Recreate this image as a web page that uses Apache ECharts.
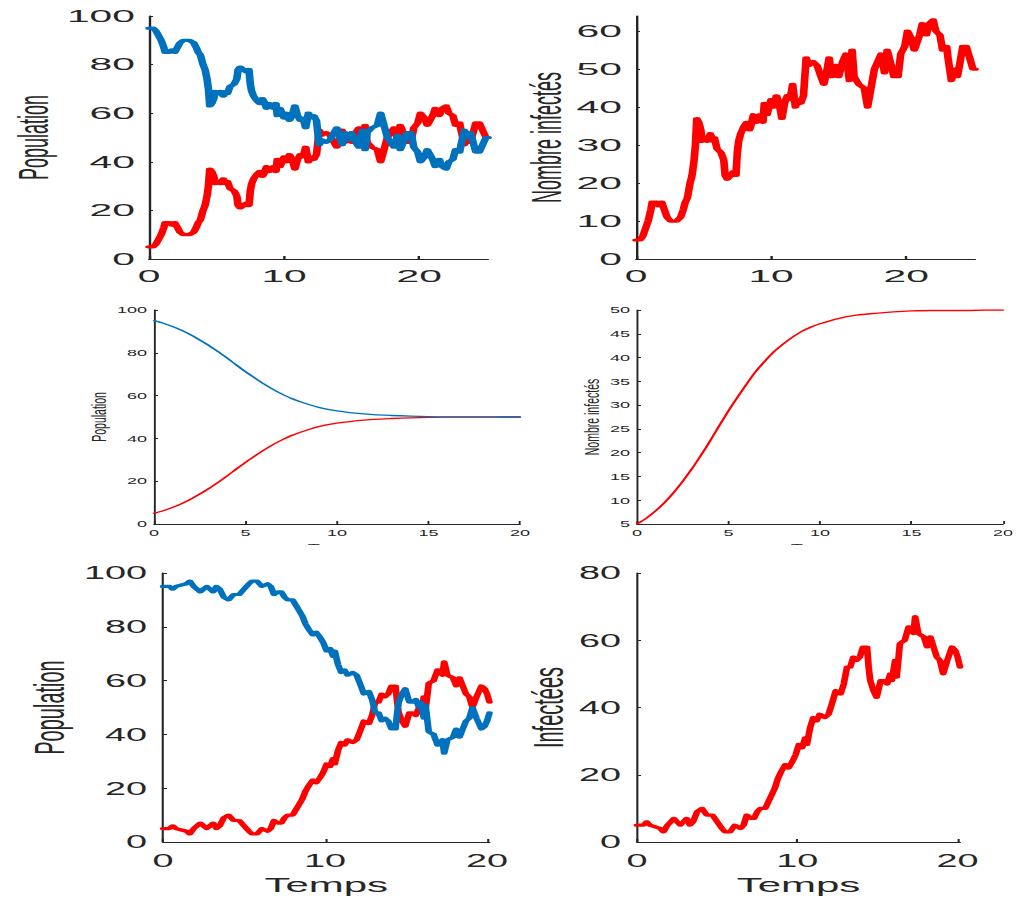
<!DOCTYPE html>
<html>
<head>
<meta charset="utf-8">
<script src="https://cdn.jsdelivr.net/npm/echarts@6/dist/echarts.min.js"></script>
<style>
  html, body { margin: 0; padding: 0; background: #fff; width: 1016px; height: 899px; overflow: hidden; }
  .row { position: absolute; left: 0; width: 1016px; overflow: hidden; background: #fff; }
  .inner { position: absolute; left: 0; top: 0; transform-origin: 0 0; }
</style>
</head>
<body>
<div class="row" style="top:0;height:290px"><div class="inner" id="chart-top"></div></div>
<div class="row" style="top:290px;height:255px"><div class="inner" id="chart-mid"></div></div>
<div class="row" style="top:545px;height:354px"><div class="inner" id="chart-bot"></div></div>
<script>
// ---- Simulation 1 (horizon 25): event times, infected and susceptible counts ----
const topTimes = [0, 0.3, 0.5, 0.7, 0.9, 1.1, 1.2, 1.5, 1.7, 1.9, 2.1, 2.3, 2.55, 3.0, 3.3, 3.5, 3.65, 3.8,
  4.0, 4.15, 4.3, 4.4, 4.5, 4.65, 4.8, 4.9, 5.1, 5.3, 5.5, 5.7, 5.8, 6.0, 6.3, 6.5, 6.6, 6.75, 7.0, 7.2,
  7.4, 7.5, 7.6, 7.75, 8.0, 8.2, 8.4, 8.5, 8.7, 8.9, 9.2, 9.4, 9.5, 9.7, 9.85, 10.0, 10.2, 10.4, 10.6,
  10.7, 10.8, 11.0, 11.2, 11.4, 11.6, 11.8, 12.0, 12.2, 12.4, 12.6, 12.8, 13.1, 13.4, 13.7, 13.9, 14.1,
  14.3, 14.5, 14.8, 15.0, 15.3, 15.55, 15.8, 16.0, 16.15, 16.5, 16.9, 17.15, 17.4, 17.65, 17.9, 18.15,
  18.4, 18.6, 18.9, 19.1, 19.4, 19.6, 19.9, 20.1, 20.4, 20.6, 21.0, 21.2, 21.5, 21.7, 22.0, 22.2, 22.5,
  22.7, 23.0, 23.1, 23.35, 23.6, 23.8, 24.2, 24.45, 24.7, 24.95, 25.1];
const topInfected = [5, 5, 6, 8, 10, 13, 15, 15, 14, 15, 13, 11, 10, 10, 11, 13, 15, 16,
  20, 22, 26, 30, 37, 36, 34, 31, 32, 31, 33, 31, 32, 29, 28, 26, 22, 21, 22, 23,
  22, 28, 31, 33, 35, 36, 34, 35, 38, 36, 38, 36, 41, 38, 40, 42, 40, 43, 41,
  39, 37, 41, 43, 42, 46, 40, 42, 41, 43, 53, 51, 52, 51, 48, 46, 49,
  53, 48, 51, 48, 52, 54, 47, 55, 48, 46, 45, 40, 45, 50, 52, 54,
  49, 55, 51, 48, 48, 54, 56, 60, 58, 55, 59, 62, 59, 62, 63, 60, 59,
  55, 56, 53, 47, 50, 48, 56, 56, 53, 50, 50];
const topSusceptible = [95, 95, 94, 92, 90, 87, 85, 85, 86, 85, 87, 89, 90, 90, 89, 87, 85, 84,
  80, 78, 74, 70, 63, 64, 66, 69, 68, 69, 67, 69, 68, 71, 72, 74, 78, 79, 78, 77,
  78, 72, 69, 67, 65, 64, 66, 65, 62, 64, 62, 64, 59, 62, 60, 58, 60, 57, 59,
  61, 63, 59, 57, 58, 54, 60, 58, 59, 57, 47, 49, 48, 49, 52, 54, 51,
  47, 52, 49, 52, 48, 46, 53, 45, 52, 54, 55, 60, 55, 50, 48, 46,
  51, 45, 49, 52, 52, 46, 44, 40, 42, 45, 41, 38, 41, 38, 37, 40, 41,
  45, 44, 47, 53, 50, 52, 44, 44, 47, 50, 50];

// ---- Deterministic model: mean trajectories ----
const meanTimes = [0, 0.5, 1, 1.5, 2, 2.5, 3, 3.5, 4, 4.5, 5, 5.5, 6, 6.5, 7, 7.5, 8, 8.5, 9, 9.5, 10,
  11, 12, 13, 14, 15, 16, 17, 18, 19, 20];
const meanInfected = [5.0, 6.2, 7.7, 9.5, 11.6, 14.0, 16.6, 19.5, 22.5, 25.7, 28.8, 31.7, 34.5, 37.1,
  39.3, 41.3, 42.9, 44.3, 45.5, 46.4, 47.1, 48.2, 48.9, 49.3, 49.6, 49.8, 49.9, 49.9, 49.9, 50.0, 50.0];
const meanSusceptible = [95.0, 93.8, 92.3, 90.5, 88.4, 86.0, 83.4, 80.5, 77.5, 74.3, 71.2, 68.3, 65.5,
  62.9, 60.7, 58.7, 57.1, 55.7, 54.5, 53.6, 52.9, 51.8, 51.1, 50.7, 50.4, 50.2, 50.1, 50.1, 50.1, 50.0, 50.0];

// ---- Simulation 2 (horizon 20) ----
const botTimes = [0, 0.4, 0.6, 0.8, 1.45, 1.65, 1.9, 2.1, 2.3, 2.5, 2.7, 2.9, 3.1, 3.3, 3.5, 3.75, 4.05,
  4.35, 4.7, 5.0, 5.3, 5.5, 5.8, 6.1, 6.45, 6.65, 6.85, 7.1, 7.3, 7.5, 7.7, 8.0, 8.2, 8.4, 8.6, 8.8,
  9.0, 9.25, 9.45, 9.7, 9.9, 10.1, 10.3, 10.5, 10.6, 10.8, 11.0, 11.2, 11.4, 11.7, 11.95, 12.15, 12.4,
  12.7, 12.9, 13.1, 13.3, 13.5, 13.7, 13.9, 14.1, 14.35, 14.45, 14.55, 14.75, 14.95, 15.2, 15.4, 15.6,
  15.8, 15.9, 16.1, 16.2, 16.4, 16.7, 16.95, 17.25, 17.35, 17.55, 17.9, 18.1, 18.3, 18.5, 18.7, 18.9,
  19.1, 19.35, 19.65, 19.85, 20.0, 20.15];
const botInfected = [5, 5, 6, 5, 4, 3, 5, 6, 7, 6, 5, 6, 7, 5, 6, 9, 10,
  8, 8, 6, 4, 3, 3, 5, 4, 5, 8, 7, 7, 9, 10, 10, 12, 14, 16, 19,
  21, 23, 22, 24, 26, 29, 28, 31, 29, 34, 37, 36, 38, 37, 38, 41, 45,
  44, 47, 52, 52, 55, 54, 55, 58, 58, 52, 48, 45, 43, 48, 48, 47,
  50, 48, 54, 49, 59, 60, 64, 62, 67, 62, 61, 58, 61, 58, 55, 54,
  50, 54, 58, 57, 55, 52];
const botSusceptible = [95, 95, 94, 95, 96, 97, 95, 94, 93, 94, 95, 94, 93, 95, 94, 91, 90,
  92, 92, 94, 96, 97, 97, 95, 96, 95, 92, 93, 93, 91, 90, 90, 88, 86, 84, 81,
  79, 77, 78, 76, 74, 71, 72, 69, 71, 66, 63, 64, 62, 63, 62, 59, 55,
  56, 53, 48, 48, 45, 46, 45, 42, 42, 48, 52, 55, 57, 52, 52, 53,
  50, 52, 46, 51, 41, 40, 36, 38, 33, 38, 39, 42, 39, 42, 45, 46,
  50, 46, 42, 43, 45, 48];

// ---- Tick values ----
const stochTimeTicks = [0, 10, 20];
const topInfectedTicks = [0, 10, 20, 30, 40, 50, 60];

const FONT = '"Liberation Sans", Arial, Helvetica, sans-serif';
const INK = '#262626';
const RED = '#ff0000';
const BLUE = '#0072bd';

function pairs(xs, ys) { return xs.map((x, i) => [x, ys[i]]); }

// One row of panels, drawn in a narrow canvas and stretched horizontally.
// Panel boxes and horizontal gaps are given in final (stretched) pixels.
function buildRow(id, stretch, height, style, panels) {
  const el = document.getElementById(id);
  const w = 1016 / stretch;
  el.style.width = w + 'px';
  el.style.height = height + 'px';
  el.style.transform = 'scaleX(' + stretch + ')';
  const chart = echarts.init(el, null, { renderer: 'svg', width: w, height: height });
  const grid = [], xAxis = [], yAxis = [], series = [];
  panels.forEach((p, i) => {
    const [l, t, r, b] = p.box;
    grid.push({ left: l / stretch, top: t, width: (r - l) / stretch, height: b - t,
                containLabel: false, outerBoundsMode: 'none' });
    const nameStyle = { color: INK, fontSize: style.nameSize, fontFamily: FONT };
    xAxis.push({
      type: 'value', gridIndex: i, min: p.x.min, max: p.x.max, interval: p.x.interval,
      axisLine: { show: true, onZero: false, lineStyle: { color: INK, width: 1 } },
      axisTick: { show: true, inside: true, length: 3, lineStyle: { color: INK }, customValues: p.x.ticks },
      axisLabel: { color: INK, fontSize: style.tickSize, fontFamily: FONT, margin: style.xMargin,
                   customValues: p.x.ticks, hideOverlap: false },
      splitLine: { show: false },
      name: p.xName || '', nameLocation: 'middle', nameGap: p.xGap || 0, nameTextStyle: nameStyle
    });
    yAxis.push({
      type: 'value', gridIndex: i, min: p.y.min, max: p.y.max, interval: p.y.interval,
      axisLine: { show: true, onZero: false, lineStyle: { color: INK, width: 1 } },
      axisTick: { show: true, inside: true, length: 4 / stretch, lineStyle: { color: INK }, customValues: p.y.ticks },
      axisLabel: { color: INK, fontSize: style.tickSize, fontFamily: FONT, margin: style.yMargin / stretch,
                   customValues: p.y.ticks, hideOverlap: false },
      splitLine: { show: false },
      name: p.yName, nameLocation: 'middle', nameGap: p.yGap / stretch, nameTextStyle: nameStyle
    });
    p.lines.forEach(s => series.push({
      type: 'line', xAxisIndex: i, yAxisIndex: i, data: s.data, showSymbol: false, symbol: 'none',
      smooth: s.smooth || false,
      lineStyle: { color: s.color, width: style.lineWidth, join: 'round', cap: 'round' },
      itemStyle: { color: s.color },
      animation: false, silent: true
    }));
  });
  chart.setOption({ animation: false, backgroundColor: '#fff', grid, xAxis, yAxis, series });
}

// Row 1: first stochastic run
buildRow('chart-top', 2.4, 290,
  { tickSize: 17, nameSize: 18, xMargin: 9, yMargin: 14, lineWidth: 3.2 },
  [
    { box: [149, 16, 488, 259],
      x: { min: 0, max: 25.1, ticks: stochTimeTicks },
      y: { min: 0, max: 100, interval: 20 },
      yName: 'Population', yGap: 94,
      lines: [ { data: pairs(topTimes, topInfected), color: RED },
               { data: pairs(topTimes, topSusceptible), color: BLUE } ] },
    { box: [636, 16, 975, 259],
      x: { min: 0, max: 25.1, ticks: stochTimeTicks },
      y: { min: 0, max: 64, ticks: topInfectedTicks },
      yName: 'Nombre infectés', yGap: 68,
      lines: [ { data: pairs(topTimes, topInfected), color: RED } ] }
  ]);

// Row 2: deterministic model (its time label sits under the third row's top edge)
buildRow('chart-mid', 1.9, 255,
  { tickSize: 9.5, nameSize: 10.5, xMargin: 3.5, yMargin: 7, lineWidth: 1.3 },
  [
    { box: [154, 20, 520, 234],
      x: { min: 0, max: 20, interval: 5 },
      y: { min: 0, max: 100, interval: 20 },
      yName: 'Population', yGap: 41, xName: 'Temps', xGap: 16,
      lines: [ { data: pairs(meanTimes, meanInfected), color: RED, smooth: 0.3 },
               { data: pairs(meanTimes, meanSusceptible), color: BLUE, smooth: 0.3 } ] },
    { box: [637, 20, 1003, 234],
      x: { min: 0, max: 20, interval: 5 },
      y: { min: 5, max: 50, interval: 5 },
      yName: 'Nombre infectés', yGap: 29, xName: 'Temps', xGap: 16,
      lines: [ { data: pairs(meanTimes, meanInfected), color: RED, smooth: 0.3 } ] }
  ]);

// Row 3: second stochastic run
buildRow('chart-bot', 2.1, 354,
  { tickSize: 18, nameSize: 20, xMargin: 10, yMargin: 16, lineWidth: 3.2 },
  [
    { box: [163, 28, 489.5, 297],
      x: { min: 0, max: 20.15, ticks: stochTimeTicks },
      y: { min: 0, max: 100, interval: 20 },
      yName: 'Population', yGap: 93, xName: 'Temps', xGap: 32,
      lines: [ { data: pairs(botTimes, botInfected), color: RED },
               { data: pairs(botTimes, botSusceptible), color: BLUE } ] },
    { box: [637, 28, 960, 297],
      x: { min: 0, max: 20.15, ticks: stochTimeTicks },
      y: { min: 0, max: 80, interval: 20 },
      yName: 'Infectées', yGap: 68, xName: 'Temps', xGap: 32,
      lines: [ { data: pairs(botTimes, botInfected), color: RED } ] }
  ]);
</script>
</body>
</html>
